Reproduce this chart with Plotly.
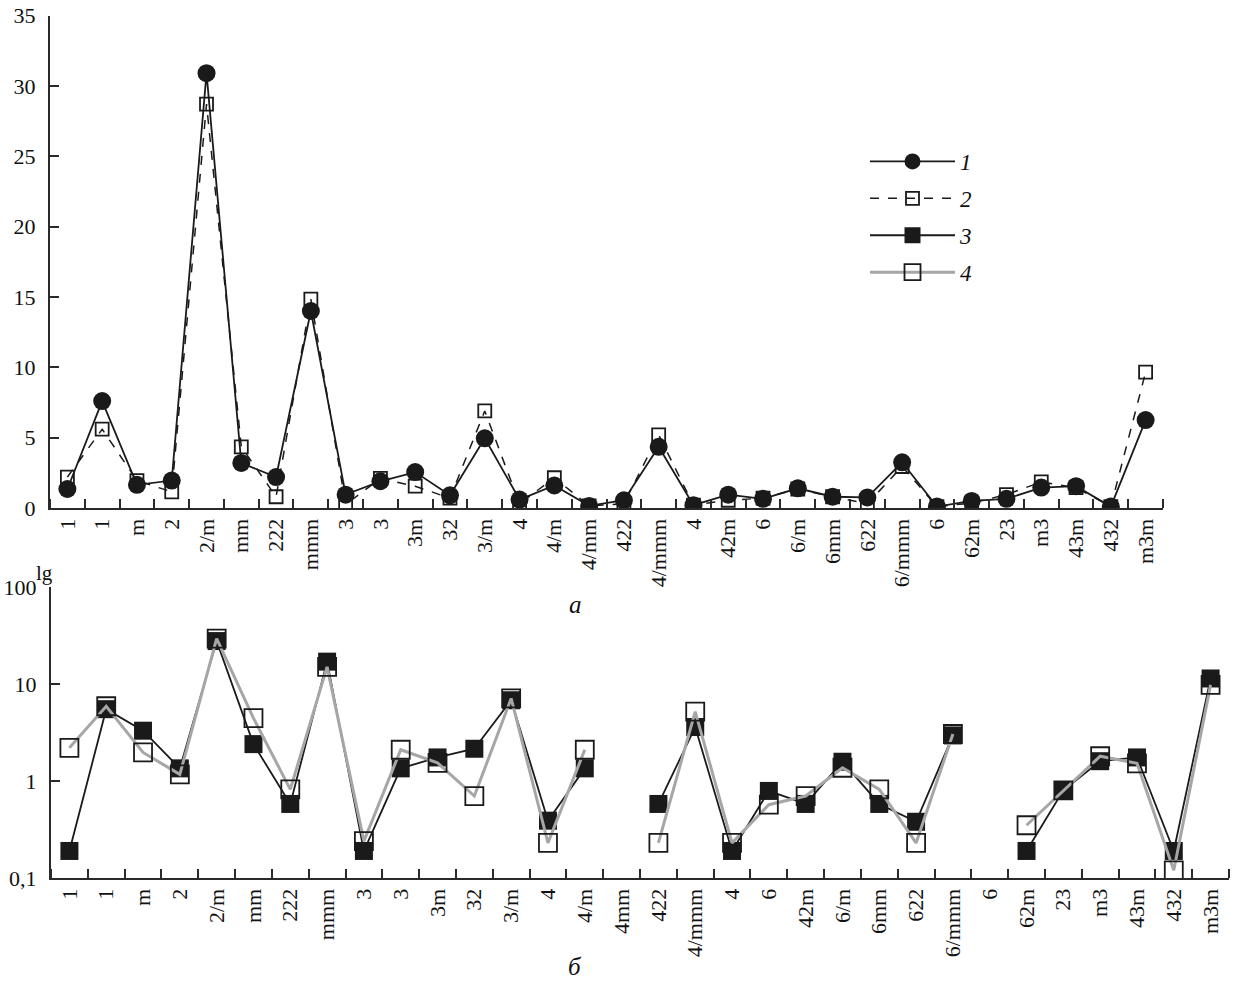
import plotly.graph_objects as go

# ---- categories ----
classes_a = ["1", "1", "m", "2", "2/m", "mm", "222", "mmm", "3", "3", "3m", "32", "3/m",
             "4", "4/m", "4/mm", "422", "4/mmm", "4", "42m", "6", "6/m", "6mm", "622",
             "6/mmm", "6", "62m", "23", "m3", "43m", "432", "m3m"]
classes_b = ["1", "1", "m", "2", "2/m", "mm", "222", "mmm", "3", "3", "3m", "32", "3/m",
             "4", "4/m", "4mm", "422", "4/mmm", "4", "6", "42m", "6/m", "6mm", "622",
             "6/mmm", "6", "62m", "23", "m3", "43m", "432", "m3m"]

# ---- series (panel a, linear) ----
series1 = [1.35, 7.6, 1.65, 1.95, 30.9, 3.2, 2.2, 14.0, 0.95, 1.9, 2.55, 0.9, 4.95,
           0.6, 1.6, 0.15, 0.55, 4.35, 0.2, 0.95, 0.65, 1.4, 0.8, 0.75,
           3.25, 0.1, 0.5, 0.65, 1.45, 1.55, 0.1, 6.25]
series2 = [2.2, 5.6, 1.95, 1.15, 28.7, 4.35, 0.8, 14.85, 0.25, 2.1, 1.55, 0.7, 6.9,
           0.3, 2.15, 0.15, 0.3, 5.2, 0.2, 0.55, 0.7, 1.35, 0.8, 0.3,
           2.95, 0.1, 0.35, 0.95, 1.85, 1.45, 0.1, 9.65]

# ---- series (panel b, log) ----
series3 = [0.19, 5.5, 3.3, 1.35, 27.7, 2.4, 0.58, 17.0, 0.19, 1.35, 1.75, 2.15, 6.8,
           0.39, 1.35, None, 0.58, 3.6, 0.19, 0.79, 0.58, 1.58, 0.58, 0.38,
           2.95, None, 0.19, 0.8, 1.6, 1.75, 0.19, 11.4]
series4 = [2.2, 5.9, 1.97, 1.17, 29.4, 4.45, 0.82, 15.0, 0.24, 2.1, 1.54, 0.7, 7.1,
           0.23, 2.1, None, 0.23, 5.2, 0.23, 0.57, 0.7, 1.37, 0.82, 0.23,
           3.05, None, 0.35, 0.8, 1.8, 1.52, 0.12, 9.8]

xa = list(range(len(classes_a)))
xb = list(range(len(classes_b)))

SERIF = "Liberation Serif, Times New Roman, serif"
AX = "#2a2a2a"

fig = go.Figure()

# panel a
fig.add_trace(go.Scatter(x=xa, y=series2, mode="lines+markers", name="2",
                         legendrank=2, legendgroup="g2",
                         line=dict(color="#1a1a1a", width=1.5, dash="dash"),
                         marker=dict(symbol="square-open", size=13, color="#1a1a1a",
                                     line=dict(width=1.8)),
                         xaxis="x", yaxis="y"))
fig.add_trace(go.Scatter(x=xa, y=series1, mode="lines+markers", name="1",
                         legendrank=1, legendgroup="g1",
                         line=dict(color="#1a1a1a", width=1.8),
                         marker=dict(symbol="circle", size=18, color="#1a1a1a"),
                         xaxis="x", yaxis="y"))

# panel b
fig.add_trace(go.Scatter(x=xb, y=series3, mode="lines+markers", name="3",
                         legendrank=3, legendgroup="g3", connectgaps=False,
                         line=dict(color="#1a1a1a", width=1.8),
                         marker=dict(symbol="square", size=18, color="#1a1a1a"),
                         xaxis="x2", yaxis="y2"))
fig.add_trace(go.Scatter(x=xb, y=series4, mode="lines+markers", name="4",
                         legendrank=4, legendgroup="g4", connectgaps=False,
                         line=dict(color="#a6a6a6", width=3),
                         marker=dict(symbol="square-open", size=18, color="#1a1a1a",
                                     line=dict(width=1.8)),
                         xaxis="x2", yaxis="y2"))

W, H = 1233, 983


def px_x(p):
    return p / W


def px_y(p):
    return 1 - p / H


bounds = [i - 0.5 for i in range(len(classes_a) + 1)]

common_x = dict(
    tickmode="array", ticks="", tickangle=-90,
    tickfont=dict(family=SERIF, size=22, color="#111"),
    showline=True, linecolor=AX, linewidth=2, showgrid=False, zeroline=False,
    range=[-0.5, len(classes_a) - 0.5],
    minor=dict(tickmode="array", tickvals=bounds, ticks="inside", ticklen=9,
               tickwidth=1.5, tickcolor=AX, showgrid=False),
    automargin=False, ticklabeloverflow="allow",
)

common_y = dict(
    tickmode="array", ticks="inside", ticklen=9, tickwidth=1.5, tickcolor=AX,
    showline=True, linecolor=AX, linewidth=2, showgrid=False,
    zeroline=False, automargin=False, ticklabelstandoff=8,
    ticklabeloverflow="allow",
    tickfont=dict(family=SERIF, size=22, color="#111"),
)

fig.update_layout(
    width=W, height=H,
    margin=dict(l=0, r=0, t=0, b=0),
    paper_bgcolor="white", plot_bgcolor="white",
    font=dict(family=SERIF, color="#111"),
    xaxis=dict(domain=[px_x(50), px_x(1163)], anchor="y",
               tickvals=xa, ticktext=classes_a, **common_x),
    yaxis=dict(domain=[px_y(508), px_y(15.5)], anchor="x", range=[0, 35],
               tickvals=[0, 5, 10, 15, 20, 25, 30, 35], **common_y),
    xaxis2=dict(domain=[px_x(51), px_x(1229)], anchor="y2",
                tickvals=xb, ticktext=classes_b, **common_x),
    yaxis2=dict(domain=[px_y(878), px_y(587)], anchor="x2", type="log",
                range=[-1, 2], tickvals=[0.1, 1, 10, 100],
                ticktext=["0,1", "1", "10", "100"], **common_y),
    legend=dict(x=px_x(865), y=px_y(140), xanchor="left", yanchor="top",
                bgcolor="rgba(0,0,0,0)", itemwidth=85, tracegroupgap=4,
                traceorder="grouped",
                font=dict(family=SERIF, size=23, style="italic", color="#111")),
    showlegend=True,
    annotations=[
        dict(text="а", x=px_x(575), y=px_y(604), xref="paper", yref="paper",
             xanchor="center", yanchor="middle", showarrow=False,
             font=dict(family=SERIF, size=25, style="italic")),
        dict(text="б", x=px_x(575), y=px_y(966), xref="paper", yref="paper",
             xanchor="center", yanchor="middle", showarrow=False,
             font=dict(family=SERIF, size=25, style="italic")),
        dict(text="lg", x=px_x(45), y=px_y(573), xref="paper", yref="paper",
             xanchor="center", yanchor="middle", showarrow=False,
             font=dict(family=SERIF, size=21)),
    ],
)

fig.write_html("out.html",
               config={"displayModeBar": False},
               post_script="document.body.style.margin='0';"
                           "document.body.style.overflow='hidden';")
